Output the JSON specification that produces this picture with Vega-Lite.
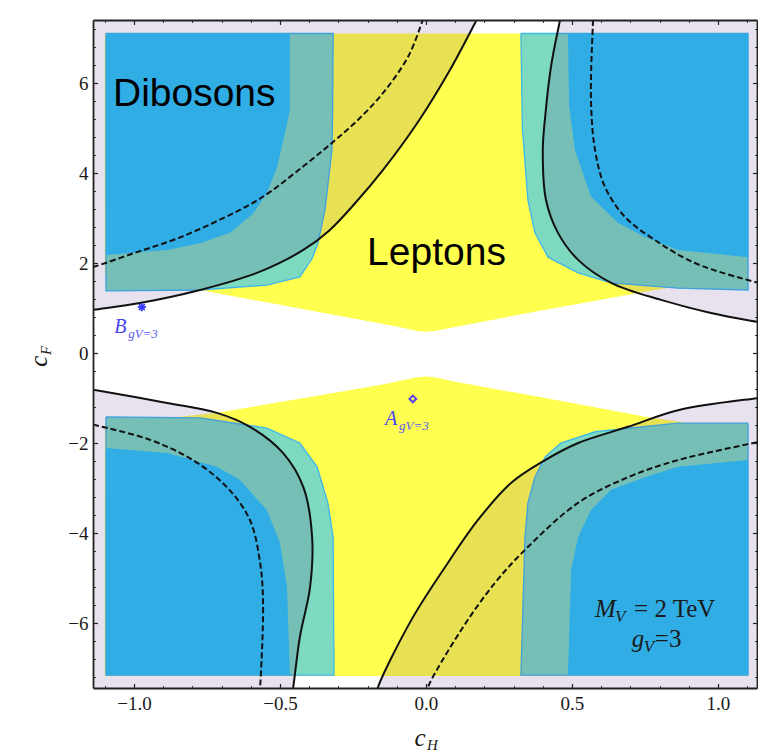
{
  "$schema": "https://vega.github.io/schema/vega-lite/v6.json",
  "width": 664,
  "height": 668,
  "autosize": "none",
  "padding": {"left": 93, "top": 20, "right": 1, "bottom": 64},
  "background": "white",
  "config": {"view": {"stroke": null}},
  "datasets": {
    "yellow": [
      {"id": "U", "i": 0, "x": -1.1, "y": 7.1}, {"id": "U", "i": 1, "x": 1.1, "y": 7.1}, {"id": "U", "i": 2, "x": 1.1, "y": 1.75}, {"id": "U", "i": 3, "x": 0.75, "y": 1.36}, {"id": "U", "i": 4, "x": 0.4, "y": 0.95}, {"id": "U", "i": 5, "x": 0.1, "y": 0.58}, {"id": "U", "i": 6, "x": 0.03, "y": 0.49}, {"id": "U", "i": 7, "x": 0, "y": 0.47}, {"id": "U", "i": 8, "x": -0.03, "y": 0.49}, {"id": "U", "i": 9, "x": -0.1, "y": 0.59}, {"id": "U", "i": 10, "x": -0.4, "y": 0.95}, {"id": "U", "i": 11, "x": -0.774, "y": 1.4}, {"id": "U", "i": 12, "x": -1.1, "y": 1.75},
      {"id": "L", "i": 0, "x": -1.1, "y": -7.18}, {"id": "L", "i": 1, "x": 1.1, "y": -7.18}, {"id": "L", "i": 2, "x": 1.1, "y": -1.75}, {"id": "L", "i": 3, "x": 0.757, "y": -1.42}, {"id": "L", "i": 4, "x": 0.4, "y": -0.99}, {"id": "L", "i": 5, "x": 0.1, "y": -0.64}, {"id": "L", "i": 6, "x": 0.03, "y": -0.54}, {"id": "L", "i": 7, "x": 0, "y": -0.52}, {"id": "L", "i": 8, "x": -0.03, "y": -0.54}, {"id": "L", "i": 9, "x": -0.158, "y": -0.71}, {"id": "L", "i": 10, "x": -0.716, "y": -1.33}, {"id": "L", "i": 11, "x": -0.85, "y": -1.42}, {"id": "L", "i": 12, "x": -1.1, "y": -1.6}
    ],
    "mint": [
      {"id": "UL", "i": 0, "x": -1.096, "y": 7.1}, {"id": "UL", "i": 1, "x": -0.318, "y": 7.1}, {"id": "UL", "i": 2, "x": -0.32, "y": 5.2}, {"id": "UL", "i": 3, "x": -0.322, "y": 4.51}, {"id": "UL", "i": 4, "x": -0.346, "y": 3.18}, {"id": "UL", "i": 5, "x": -0.37, "y": 2.44}, {"id": "UL", "i": 6, "x": -0.39, "y": 2.1}, {"id": "UL", "i": 7, "x": -0.432, "y": 1.69}, {"id": "UL", "i": 8, "x": -0.545, "y": 1.51}, {"id": "UL", "i": 9, "x": -0.774, "y": 1.4}, {"id": "UL", "i": 10, "x": -1.096, "y": 1.38}, {"id": "UL", "i": 11, "x": -1.096, "y": 7.1},
      {"id": "UR", "i": 0, "x": 0.325, "y": 7.1}, {"id": "UR", "i": 1, "x": 1.103, "y": 7.1}, {"id": "UR", "i": 2, "x": 1.103, "y": 1.4}, {"id": "UR", "i": 3, "x": 0.863, "y": 1.44}, {"id": "UR", "i": 4, "x": 0.634, "y": 1.56}, {"id": "UR", "i": 5, "x": 0.521, "y": 1.78}, {"id": "UR", "i": 6, "x": 0.418, "y": 2.13}, {"id": "UR", "i": 7, "x": 0.373, "y": 2.67}, {"id": "UR", "i": 8, "x": 0.349, "y": 3.4}, {"id": "UR", "i": 9, "x": 0.33, "y": 5.0}, {"id": "UR", "i": 10, "x": 0.325, "y": 7.1},
      {"id": "LL", "i": 0, "x": -1.096, "y": -1.42}, {"id": "LL", "i": 1, "x": -0.774, "y": -1.44}, {"id": "LL", "i": 2, "x": -0.545, "y": -1.67}, {"id": "LL", "i": 3, "x": -0.432, "y": -2.0}, {"id": "LL", "i": 4, "x": -0.373, "y": -2.53}, {"id": "LL", "i": 5, "x": -0.336, "y": -3.33}, {"id": "LL", "i": 6, "x": -0.318, "y": -4.09}, {"id": "LL", "i": 7, "x": -0.315, "y": -7.16}, {"id": "LL", "i": 8, "x": -1.096, "y": -7.16}, {"id": "LL", "i": 9, "x": -1.096, "y": -1.42},
      {"id": "LR", "i": 0, "x": 1.103, "y": -1.56}, {"id": "LR", "i": 1, "x": 0.863, "y": -1.56}, {"id": "LR", "i": 2, "x": 0.579, "y": -1.75}, {"id": "LR", "i": 3, "x": 0.462, "y": -2.0}, {"id": "LR", "i": 4, "x": 0.408, "y": -2.31}, {"id": "LR", "i": 5, "x": 0.373, "y": -2.76}, {"id": "LR", "i": 6, "x": 0.349, "y": -3.33}, {"id": "LR", "i": 7, "x": 0.339, "y": -4.09}, {"id": "LR", "i": 8, "x": 0.325, "y": -7.16}, {"id": "LR", "i": 9, "x": 1.103, "y": -7.16}, {"id": "LR", "i": 10, "x": 1.103, "y": -1.56}
    ],
    "blue": [
      {"id": "UL", "i": 0, "x": -1.096, "y": 7.1}, {"id": "UL", "i": 1, "x": -0.466, "y": 7.1}, {"id": "UL", "i": 2, "x": -0.466, "y": 5.4}, {"id": "UL", "i": 3, "x": -0.483, "y": 4.89}, {"id": "UL", "i": 4, "x": -0.51, "y": 4.13}, {"id": "UL", "i": 5, "x": -0.545, "y": 3.55}, {"id": "UL", "i": 6, "x": -0.592, "y": 3.1}, {"id": "UL", "i": 7, "x": -0.671, "y": 2.67}, {"id": "UL", "i": 8, "x": -0.774, "y": 2.44}, {"id": "UL", "i": 9, "x": -0.887, "y": 2.29}, {"id": "UL", "i": 10, "x": -1.096, "y": 2.18},
      {"id": "UR", "i": 0, "x": 0.486, "y": 7.1}, {"id": "UR", "i": 1, "x": 1.103, "y": 7.1}, {"id": "UR", "i": 2, "x": 1.103, "y": 2.13}, {"id": "UR", "i": 3, "x": 0.863, "y": 2.29}, {"id": "UR", "i": 4, "x": 0.75, "y": 2.58}, {"id": "UR", "i": 5, "x": 0.658, "y": 2.89}, {"id": "UR", "i": 6, "x": 0.565, "y": 3.47}, {"id": "UR", "i": 7, "x": 0.51, "y": 4.51}, {"id": "UR", "i": 8, "x": 0.49, "y": 5.5},
      {"id": "LL", "i": 0, "x": -1.096, "y": -2.11}, {"id": "LL", "i": 1, "x": -0.887, "y": -2.22}, {"id": "LL", "i": 2, "x": -0.716, "y": -2.53}, {"id": "LL", "i": 3, "x": -0.637, "y": -2.82}, {"id": "LL", "i": 4, "x": -0.545, "y": -3.49}, {"id": "LL", "i": 5, "x": -0.5, "y": -4.22}, {"id": "LL", "i": 6, "x": -0.476, "y": -5.2}, {"id": "LL", "i": 7, "x": -0.466, "y": -7.16}, {"id": "LL", "i": 8, "x": -1.096, "y": -7.16},
      {"id": "LR", "i": 0, "x": 1.103, "y": -2.38}, {"id": "LR", "i": 1, "x": 0.863, "y": -2.53}, {"id": "LR", "i": 2, "x": 0.75, "y": -2.76}, {"id": "LR", "i": 3, "x": 0.634, "y": -3.04}, {"id": "LR", "i": 4, "x": 0.565, "y": -3.49}, {"id": "LR", "i": 5, "x": 0.521, "y": -4.09}, {"id": "LR", "i": 6, "x": 0.497, "y": -4.82}, {"id": "LR", "i": 7, "x": 0.486, "y": -7.16}, {"id": "LR", "i": 8, "x": 1.103, "y": -7.16}
    ],
    "lav": [
      {"id": "UL", "i": 0, "x": -1.2, "y": 7.6}, {"id": "UL", "i": 1, "x": 0.19, "y": 7.6}, {"id": "UL", "i": 2, "x": 0.175, "y": 7.42}, {"id": "UL", "i": 3, "x": 0.082, "y": 6.29}, {"id": "UL", "i": 4, "x": -0.031, "y": 5.1}, {"id": "UL", "i": 5, "x": -0.147, "y": 4.07}, {"id": "UL", "i": 6, "x": -0.24, "y": 3.35}, {"id": "UL", "i": 7, "x": -0.33, "y": 2.73}, {"id": "UL", "i": 8, "x": -0.42, "y": 2.29}, {"id": "UL", "i": 9, "x": -0.579, "y": 1.78}, {"id": "UL", "i": 10, "x": -0.774, "y": 1.4}, {"id": "UL", "i": 11, "x": -0.98, "y": 1.11}, {"id": "UL", "i": 12, "x": -1.14, "y": 0.96}, {"id": "UL", "i": 13, "x": -1.2, "y": 0.9},
      {"id": "UR", "i": 0, "x": 1.2, "y": 7.6}, {"id": "UR", "i": 1, "x": 0.465, "y": 7.6}, {"id": "UR", "i": 2, "x": 0.459, "y": 7.4}, {"id": "UR", "i": 3, "x": 0.428, "y": 6.36}, {"id": "UR", "i": 4, "x": 0.408, "y": 5.24}, {"id": "UR", "i": 5, "x": 0.4, "y": 4.51}, {"id": "UR", "i": 6, "x": 0.411, "y": 3.4}, {"id": "UR", "i": 7, "x": 0.452, "y": 2.67}, {"id": "UR", "i": 8, "x": 0.521, "y": 2.07}, {"id": "UR", "i": 9, "x": 0.634, "y": 1.56}, {"id": "UR", "i": 10, "x": 0.805, "y": 1.18}, {"id": "UR", "i": 11, "x": 0.976, "y": 0.89}, {"id": "UR", "i": 12, "x": 1.137, "y": 0.69}, {"id": "UR", "i": 13, "x": 1.2, "y": 0.62},
      {"id": "LL", "i": 0, "x": -1.2, "y": -7.6}, {"id": "LL", "i": 1, "x": -1.2, "y": -0.75}, {"id": "LL", "i": 2, "x": -1.134, "y": -0.82}, {"id": "LL", "i": 3, "x": -0.887, "y": -1.11}, {"id": "LL", "i": 4, "x": -0.716, "y": -1.33}, {"id": "LL", "i": 5, "x": -0.603, "y": -1.64}, {"id": "LL", "i": 6, "x": -0.49, "y": -2.22}, {"id": "LL", "i": 7, "x": -0.42, "y": -2.98}, {"id": "LL", "i": 8, "x": -0.39, "y": -4.09}, {"id": "LL", "i": 9, "x": -0.397, "y": -5.2}, {"id": "LL", "i": 10, "x": -0.432, "y": -6.31}, {"id": "LL", "i": 11, "x": -0.455, "y": -7.44}, {"id": "LL", "i": 12, "x": -0.46, "y": -7.6},
      {"id": "LR", "i": 0, "x": 1.2, "y": -7.6}, {"id": "LR", "i": 1, "x": -0.17, "y": -7.6}, {"id": "LR", "i": 2, "x": -0.164, "y": -7.42}, {"id": "LR", "i": 3, "x": -0.05, "y": -5.93}, {"id": "LR", "i": 4, "x": 0.065, "y": -4.76}, {"id": "LR", "i": 5, "x": 0.178, "y": -3.71}, {"id": "LR", "i": 6, "x": 0.291, "y": -2.89}, {"id": "LR", "i": 7, "x": 0.408, "y": -2.38}, {"id": "LR", "i": 8, "x": 0.521, "y": -2.0}, {"id": "LR", "i": 9, "x": 0.692, "y": -1.64}, {"id": "LR", "i": 10, "x": 0.863, "y": -1.27}, {"id": "LR", "i": 11, "x": 1.137, "y": -1.0}, {"id": "LR", "i": 12, "x": 1.2, "y": -0.95}
    ],
    "solid": [
      {"id": "UL", "i": 0, "x": -1.2, "y": 0.9}, {"id": "UL", "i": 1, "x": -1.14, "y": 0.96}, {"id": "UL", "i": 2, "x": -0.98, "y": 1.11}, {"id": "UL", "i": 3, "x": -0.774, "y": 1.4}, {"id": "UL", "i": 4, "x": -0.579, "y": 1.78}, {"id": "UL", "i": 5, "x": -0.42, "y": 2.29}, {"id": "UL", "i": 6, "x": -0.33, "y": 2.73}, {"id": "UL", "i": 7, "x": -0.24, "y": 3.35}, {"id": "UL", "i": 8, "x": -0.147, "y": 4.07}, {"id": "UL", "i": 9, "x": -0.031, "y": 5.1}, {"id": "UL", "i": 10, "x": 0.082, "y": 6.29}, {"id": "UL", "i": 11, "x": 0.175, "y": 7.42}, {"id": "UL", "i": 12, "x": 0.19, "y": 7.6},
      {"id": "UR", "i": 0, "x": 0.465, "y": 7.6}, {"id": "UR", "i": 1, "x": 0.459, "y": 7.4}, {"id": "UR", "i": 2, "x": 0.428, "y": 6.36}, {"id": "UR", "i": 3, "x": 0.408, "y": 5.24}, {"id": "UR", "i": 4, "x": 0.4, "y": 4.51}, {"id": "UR", "i": 5, "x": 0.411, "y": 3.4}, {"id": "UR", "i": 6, "x": 0.452, "y": 2.67}, {"id": "UR", "i": 7, "x": 0.521, "y": 2.07}, {"id": "UR", "i": 8, "x": 0.634, "y": 1.56}, {"id": "UR", "i": 9, "x": 0.805, "y": 1.18}, {"id": "UR", "i": 10, "x": 0.976, "y": 0.89}, {"id": "UR", "i": 11, "x": 1.137, "y": 0.69}, {"id": "UR", "i": 12, "x": 1.2, "y": 0.62},
      {"id": "LL", "i": 0, "x": -1.2, "y": -0.75}, {"id": "LL", "i": 1, "x": -1.134, "y": -0.82}, {"id": "LL", "i": 2, "x": -0.887, "y": -1.11}, {"id": "LL", "i": 3, "x": -0.716, "y": -1.33}, {"id": "LL", "i": 4, "x": -0.603, "y": -1.64}, {"id": "LL", "i": 5, "x": -0.49, "y": -2.22}, {"id": "LL", "i": 6, "x": -0.42, "y": -2.98}, {"id": "LL", "i": 7, "x": -0.39, "y": -4.09}, {"id": "LL", "i": 8, "x": -0.397, "y": -5.2}, {"id": "LL", "i": 9, "x": -0.432, "y": -6.31}, {"id": "LL", "i": 10, "x": -0.455, "y": -7.44}, {"id": "LL", "i": 11, "x": -0.46, "y": -7.6},
      {"id": "LR", "i": 0, "x": -0.17, "y": -7.6}, {"id": "LR", "i": 1, "x": -0.164, "y": -7.42}, {"id": "LR", "i": 2, "x": -0.05, "y": -5.93}, {"id": "LR", "i": 3, "x": 0.065, "y": -4.76}, {"id": "LR", "i": 4, "x": 0.178, "y": -3.71}, {"id": "LR", "i": 5, "x": 0.291, "y": -2.89}, {"id": "LR", "i": 6, "x": 0.408, "y": -2.38}, {"id": "LR", "i": 7, "x": 0.521, "y": -2.0}, {"id": "LR", "i": 8, "x": 0.692, "y": -1.64}, {"id": "LR", "i": 9, "x": 0.863, "y": -1.27}, {"id": "LR", "i": 10, "x": 1.137, "y": -1.0}, {"id": "LR", "i": 11, "x": 1.2, "y": -0.95}
    ],
    "dashed": [
      {"id": "UL", "i": 0, "x": -1.2, "y": 1.8}, {"id": "UL", "i": 1, "x": -1.14, "y": 1.91}, {"id": "UL", "i": 2, "x": -1.0, "y": 2.22}, {"id": "UL", "i": 3, "x": -0.85, "y": 2.55}, {"id": "UL", "i": 4, "x": -0.7, "y": 2.98}, {"id": "UL", "i": 5, "x": -0.603, "y": 3.3}, {"id": "UL", "i": 6, "x": -0.534, "y": 3.58}, {"id": "UL", "i": 7, "x": -0.42, "y": 4.15}, {"id": "UL", "i": 8, "x": -0.318, "y": 4.69}, {"id": "UL", "i": 9, "x": -0.23, "y": 5.2}, {"id": "UL", "i": 10, "x": -0.147, "y": 5.78}, {"id": "UL", "i": 11, "x": -0.06, "y": 6.6}, {"id": "UL", "i": 12, "x": -0.01, "y": 7.42}, {"id": "UL", "i": 13, "x": 0.0, "y": 7.6},
      {"id": "UR", "i": 0, "x": 0.573, "y": 7.6}, {"id": "UR", "i": 1, "x": 0.572, "y": 7.4}, {"id": "UR", "i": 2, "x": 0.565, "y": 5.62}, {"id": "UR", "i": 3, "x": 0.579, "y": 4.51}, {"id": "UR", "i": 4, "x": 0.613, "y": 3.69}, {"id": "UR", "i": 5, "x": 0.682, "y": 3.02}, {"id": "UR", "i": 6, "x": 0.784, "y": 2.51}, {"id": "UR", "i": 7, "x": 0.921, "y": 2.0}, {"id": "UR", "i": 8, "x": 1.137, "y": 1.56}, {"id": "UR", "i": 9, "x": 1.2, "y": 1.46},
      {"id": "LL", "i": 0, "x": -1.2, "y": -1.5}, {"id": "LL", "i": 1, "x": -1.134, "y": -1.6}, {"id": "LL", "i": 2, "x": -0.945, "y": -1.93}, {"id": "LL", "i": 3, "x": -0.798, "y": -2.38}, {"id": "LL", "i": 4, "x": -0.682, "y": -2.98}, {"id": "LL", "i": 5, "x": -0.603, "y": -3.71}, {"id": "LL", "i": 6, "x": -0.568, "y": -4.67}, {"id": "LL", "i": 7, "x": -0.558, "y": -5.56}, {"id": "LL", "i": 8, "x": -0.568, "y": -7.44}, {"id": "LL", "i": 9, "x": -0.57, "y": -7.6},
      {"id": "LR", "i": 0, "x": 0.0, "y": -7.6}, {"id": "LR", "i": 1, "x": 0.007, "y": -7.42}, {"id": "LR", "i": 2, "x": 0.12, "y": -6.16}, {"id": "LR", "i": 3, "x": 0.236, "y": -5.11}, {"id": "LR", "i": 4, "x": 0.349, "y": -4.31}, {"id": "LR", "i": 5, "x": 0.521, "y": -3.33}, {"id": "LR", "i": 6, "x": 0.692, "y": -2.76}, {"id": "LR", "i": 7, "x": 0.863, "y": -2.38}, {"id": "LR", "i": 8, "x": 1.137, "y": -1.98}, {"id": "LR", "i": 9, "x": 1.2, "y": -1.9}
    ]
  },
  "layer": [
    {
      "data": {"name": "yellow"},
      "mark": {"type": "line", "fill": "#FFFF50", "strokeWidth": 0, "clip": true},
      "encoding": {
        "x": {"field": "x", "type": "quantitative", "title": null, "scale": {"domain": [-1.1404, 1.1336], "nice": false, "zero": false},
              "axis": {"orient": "bottom", "values": [-1, -0.5, 0, 0.5, 1], "format": ".1f", "ticks": false, "tickSize": 0, "labelPadding": 6, "labelFont": "Liberation Serif", "labelFontSize": 19, "labelColor": "#1a1a1a", "domain": true, "domainColor": "#222", "domainWidth": 1.8, "grid": false, "labelFlush": false, "labelOverlap": false, "zindex": 1}},
        "y": {"field": "y", "type": "quantitative", "title": null, "scale": {"domain": [-7.444, 7.4], "nice": false, "zero": false},
              "axis": {"orient": "left", "values": [-6, -4, -2, 0, 2, 4, 6], "format": "d", "ticks": false, "tickSize": 0, "labelPadding": 5, "labelFont": "Liberation Serif", "labelFontSize": 19, "labelColor": "#1a1a1a", "domain": true, "domainColor": "#222", "domainWidth": 1.8, "grid": false, "labelFlush": false, "labelOverlap": false, "zindex": 1}},
        "detail": {"field": "id"},
        "order": {"field": "i", "type": "quantitative"}
      }
    },
    {
      "data": {"name": "mint"},
      "mark": {"type": "line", "fill": "#7DD9C0", "stroke": "#3FB7EC", "strokeWidth": 1.3, "clip": true},
      "encoding": {
        "x": {"field": "x", "type": "quantitative", "title": null, "scale": {"domain": [-1.1404, 1.1336], "nice": false, "zero": false},
              "axis": {"orient": "bottom", "values": [-1, -0.5, 0, 0.5, 1], "labels": false, "offset": -4.5, "tickSize": 4.5, "tickColor": "#222", "tickWidth": 1.2, "domain": false, "grid": false, "zindex": 1}},
        "y": {"field": "y", "type": "quantitative", "title": null, "scale": {"domain": [-7.444, 7.4], "nice": false, "zero": false},
              "axis": {"orient": "left", "values": [-6, -4, -2, 0, 2, 4, 6], "labels": false, "offset": -4.5, "tickSize": 4.5, "tickColor": "#222", "tickWidth": 1.2, "domain": false, "grid": false, "zindex": 1}},
        "detail": {"field": "id"},
        "order": {"field": "i", "type": "quantitative"}
      }
    },
    {
      "data": {"name": "blue"},
      "mark": {"type": "line", "fill": "#2FC4F6", "strokeWidth": 0, "clip": true},
      "encoding": {
        "x": {"field": "x", "type": "quantitative", "title": null, "scale": {"domain": [-1.1404, 1.1336], "nice": false, "zero": false},
              "axis": {"orient": "top", "values": [-1, -0.5, 0, 0.5, 1], "labels": false, "offset": -4.5, "tickSize": 4.5, "tickColor": "#222", "tickWidth": 1.2, "domain": false, "grid": false, "zindex": 1}},
        "y": {"field": "y", "type": "quantitative", "title": null, "scale": {"domain": [-7.444, 7.4], "nice": false, "zero": false},
              "axis": {"orient": "right", "values": [-6, -4, -2, 0, 2, 4, 6], "labels": false, "offset": -4.5, "tickSize": 4.5, "tickColor": "#222", "tickWidth": 1.2, "domain": false, "grid": false, "zindex": 1}},
        "detail": {"field": "id"},
        "order": {"field": "i", "type": "quantitative"}
      }
    },
    {
      "data": {"name": "lav"},
      "mark": {"type": "line", "fill": "#3F0571", "fillOpacity": 0.12, "strokeWidth": 0, "interpolate": "catmull-rom", "clip": true},
      "encoding": {
        "x": {"field": "x", "type": "quantitative", "title": null, "scale": {"domain": [-1.1404, 1.1336], "nice": false, "zero": false},
              "axis": {"orient": "bottom", "values": [-1.1, -0.9, -0.8, -0.7, -0.6, -0.4, -0.3, -0.2, -0.1, 0.1, 0.2, 0.3, 0.4, 0.6, 0.7, 0.8, 0.9, 1.1], "labels": false, "offset": -2.5, "tickSize": 2.5, "tickColor": "#333", "tickWidth": 1, "domain": false, "grid": false, "zindex": 1}},
        "y": {"field": "y", "type": "quantitative", "title": null, "scale": {"domain": [-7.444, 7.4], "nice": false, "zero": false},
              "axis": {"orient": "left", "values": [-7.2, -6.8, -6.4, -5.6, -5.2, -4.8, -4.4, -3.6, -3.2, -2.8, -2.4, -1.6, -1.2, -0.8, -0.4, 0.4, 0.8, 1.2, 1.6, 2.4, 2.8, 3.2, 3.6, 4.4, 4.8, 5.2, 5.6, 6.4, 6.8, 7.2], "labels": false, "offset": -2.5, "tickSize": 2.5, "tickColor": "#333", "tickWidth": 1, "domain": false, "grid": false, "zindex": 1}},
        "detail": {"field": "id"},
        "order": {"field": "i", "type": "quantitative"}
      }
    },
    {
      "data": {"name": "solid"},
      "mark": {"type": "line", "stroke": "#111", "strokeWidth": 2, "interpolate": "catmull-rom", "clip": true},
      "encoding": {
        "x": {"field": "x", "type": "quantitative", "title": null, "scale": {"domain": [-1.1404, 1.1336], "nice": false, "zero": false},
              "axis": {"orient": "top", "values": [-1.1, -0.9, -0.8, -0.7, -0.6, -0.4, -0.3, -0.2, -0.1, 0.1, 0.2, 0.3, 0.4, 0.6, 0.7, 0.8, 0.9, 1.1], "labels": false, "offset": -2.5, "tickSize": 2.5, "tickColor": "#333", "tickWidth": 1, "domain": false, "grid": false, "zindex": 1}},
        "y": {"field": "y", "type": "quantitative", "title": null, "scale": {"domain": [-7.444, 7.4], "nice": false, "zero": false},
              "axis": {"orient": "right", "values": [-7.2, -6.8, -6.4, -5.6, -5.2, -4.8, -4.4, -3.6, -3.2, -2.8, -2.4, -1.6, -1.2, -0.8, -0.4, 0.4, 0.8, 1.2, 1.6, 2.4, 2.8, 3.2, 3.6, 4.4, 4.8, 5.2, 5.6, 6.4, 6.8, 7.2], "labels": false, "offset": -2.5, "tickSize": 2.5, "tickColor": "#333", "tickWidth": 1, "domain": false, "grid": false, "zindex": 1}},
        "detail": {"field": "id"},
        "order": {"field": "i", "type": "quantitative"}
      }
    },
    {
      "data": {"name": "dashed"},
      "mark": {"type": "line", "stroke": "#111", "strokeWidth": 2, "strokeDash": [6, 3], "interpolate": "catmull-rom", "clip": true},
      "encoding": {
        "x": {"field": "x", "type": "quantitative", "title": null, "scale": {"domain": [-1.1404, 1.1336], "nice": false, "zero": false},
              "axis": {"orient": "top", "labels": false, "ticks": false, "domain": true, "domainColor": "#222", "domainWidth": 1.8, "grid": false, "zindex": 1}},
        "y": {"field": "y", "type": "quantitative", "title": null, "scale": {"domain": [-7.444, 7.4], "nice": false, "zero": false},
              "axis": {"orient": "right", "labels": false, "ticks": false, "domain": true, "domainColor": "#222", "domainWidth": 1.8, "grid": false, "zindex": 1}},
        "detail": {"field": "id"},
        "order": {"field": "i", "type": "quantitative"}
      }
    },
    {
      "data": {"values": [{"x": -0.973, "y": 1.02}]},
      "mark": {"type": "point", "shape": "M-1,0L1,0M0,-1L0,1M-0.7,-0.7L0.7,0.7M-0.7,0.7L0.7,-0.7", "size": 70, "filled": false, "stroke": "#3c3cff", "strokeWidth": 1.8, "opacity": 1},
      "encoding": {
        "x": {"field": "x", "type": "quantitative", "scale": {"domain": [-1.1404, 1.1336], "nice": false, "zero": false}, "axis": null},
        "y": {"field": "y", "type": "quantitative", "scale": {"domain": [-7.444, 7.4], "nice": false, "zero": false}, "axis": null}
      }
    },
    {
      "data": {"values": [{"x": -0.045, "y": -1.02}]},
      "mark": {"type": "point", "shape": "diamond", "size": 45, "filled": false, "stroke": "#5a40f0", "strokeWidth": 2, "opacity": 1},
      "encoding": {
        "x": {"field": "x", "type": "quantitative", "scale": {"domain": [-1.1404, 1.1336], "nice": false, "zero": false}, "axis": null},
        "y": {"field": "y", "type": "quantitative", "scale": {"domain": [-7.444, 7.4], "nice": false, "zero": false}, "axis": null}
      }
    },
    {
      "data": {"values": [{"t": "Dibosons", "x": -1.072, "y": 5.49}]},
      "mark": {"type": "text", "font": "Liberation Sans", "fontSize": 39, "align": "left", "baseline": "alphabetic", "color": "#000"},
      "encoding": {
        "x": {"field": "x", "type": "quantitative", "scale": {"domain": [-1.1404, 1.1336], "nice": false, "zero": false}, "axis": null},
        "y": {"field": "y", "type": "quantitative", "scale": {"domain": [-7.444, 7.4], "nice": false, "zero": false}, "axis": null},
        "text": {"field": "t"}
      }
    },
    {
      "data": {"values": [{"t": "Leptons", "x": 0.036, "y": 1.96}]},
      "mark": {"type": "text", "font": "Liberation Sans", "fontSize": 39, "align": "center", "baseline": "alphabetic", "color": "#000"},
      "encoding": {
        "x": {"field": "x", "type": "quantitative", "scale": {"domain": [-1.1404, 1.1336], "nice": false, "zero": false}, "axis": null},
        "y": {"field": "y", "type": "quantitative", "scale": {"domain": [-7.444, 7.4], "nice": false, "zero": false}, "axis": null},
        "text": {"field": "t"}
      }
    },
    {
      "data": {"values": [{"t": "B", "x": -1.068, "y": 0.44}, {"t": "A", "x": -0.14, "y": -1.6}]},
      "mark": {"type": "text", "font": "Liberation Serif", "fontStyle": "italic", "fontSize": 20, "align": "left", "baseline": "alphabetic", "color": "#4646f2"},
      "encoding": {
        "x": {"field": "x", "type": "quantitative", "scale": {"domain": [-1.1404, 1.1336], "nice": false, "zero": false}, "axis": null},
        "y": {"field": "y", "type": "quantitative", "scale": {"domain": [-7.444, 7.4], "nice": false, "zero": false}, "axis": null},
        "text": {"field": "t"}
      }
    },
    {
      "data": {"values": [{"t": "gV=3", "x": -1.068, "y": 0.44}, {"t": "gV=3", "x": -0.14, "y": -1.6}]},
      "mark": {"type": "text", "font": "Liberation Serif", "fontStyle": "italic", "fontSize": 13, "align": "left", "baseline": "alphabetic", "dx": 14, "dy": 5, "color": "#5a5af2"},
      "encoding": {
        "x": {"field": "x", "type": "quantitative", "scale": {"domain": [-1.1404, 1.1336], "nice": false, "zero": false}, "axis": null},
        "y": {"field": "y", "type": "quantitative", "scale": {"domain": [-7.444, 7.4], "nice": false, "zero": false}, "axis": null},
        "text": {"field": "t"}
      }
    },
    {
      "data": {"values": [{"t": "M", "x": 0.579, "y": -5.87}, {"t": "g", "x": 0.705, "y": -6.53}]},
      "mark": {"type": "text", "font": "Liberation Serif", "fontStyle": "italic", "fontSize": 25, "align": "left", "baseline": "alphabetic", "color": "#1a1a1a"},
      "encoding": {
        "x": {"field": "x", "type": "quantitative", "scale": {"domain": [-1.1404, 1.1336], "nice": false, "zero": false}, "axis": null},
        "y": {"field": "y", "type": "quantitative", "scale": {"domain": [-7.444, 7.4], "nice": false, "zero": false}, "axis": null},
        "text": {"field": "t"}
      }
    },
    {
      "data": {"values": [{"t": "V", "x": 0.579, "y": -5.87}]},
      "mark": {"type": "text", "font": "Liberation Serif", "fontStyle": "italic", "fontSize": 17, "align": "left", "baseline": "alphabetic", "dx": 20, "dy": 5, "color": "#1a1a1a"},
      "encoding": {
        "x": {"field": "x", "type": "quantitative", "scale": {"domain": [-1.1404, 1.1336], "nice": false, "zero": false}, "axis": null},
        "y": {"field": "y", "type": "quantitative", "scale": {"domain": [-7.444, 7.4], "nice": false, "zero": false}, "axis": null},
        "text": {"field": "t"}
      }
    },
    {
      "data": {"values": [{"t": "= 2 TeV", "x": 0.579, "y": -5.87}]},
      "mark": {"type": "text", "font": "Liberation Serif", "fontSize": 25, "align": "left", "baseline": "alphabetic", "dx": 39, "color": "#1a1a1a"},
      "encoding": {
        "x": {"field": "x", "type": "quantitative", "scale": {"domain": [-1.1404, 1.1336], "nice": false, "zero": false}, "axis": null},
        "y": {"field": "y", "type": "quantitative", "scale": {"domain": [-7.444, 7.4], "nice": false, "zero": false}, "axis": null},
        "text": {"field": "t"}
      }
    },
    {
      "data": {"values": [{"t": "V", "x": 0.705, "y": -6.53}]},
      "mark": {"type": "text", "font": "Liberation Serif", "fontStyle": "italic", "fontSize": 17, "align": "left", "baseline": "alphabetic", "dx": 12, "dy": 5, "color": "#1a1a1a"},
      "encoding": {
        "x": {"field": "x", "type": "quantitative", "scale": {"domain": [-1.1404, 1.1336], "nice": false, "zero": false}, "axis": null},
        "y": {"field": "y", "type": "quantitative", "scale": {"domain": [-7.444, 7.4], "nice": false, "zero": false}, "axis": null},
        "text": {"field": "t"}
      }
    },
    {
      "data": {"values": [{"t": "=3", "x": 0.705, "y": -6.53}]},
      "mark": {"type": "text", "font": "Liberation Serif", "fontSize": 25, "align": "left", "baseline": "alphabetic", "dx": 23, "color": "#1a1a1a"},
      "encoding": {
        "x": {"field": "x", "type": "quantitative", "scale": {"domain": [-1.1404, 1.1336], "nice": false, "zero": false}, "axis": null},
        "y": {"field": "y", "type": "quantitative", "scale": {"domain": [-7.444, 7.4], "nice": false, "zero": false}, "axis": null},
        "text": {"field": "t"}
      }
    },
    {
      "data": {"values": [{"t": "c", "x": 0, "y": -7.444}]},
      "mark": {"type": "text", "font": "Liberation Serif", "fontStyle": "italic", "fontSize": 25, "align": "center", "baseline": "alphabetic", "dx": -6, "dy": 58, "color": "#1a1a1a"},
      "encoding": {
        "x": {"field": "x", "type": "quantitative", "scale": {"domain": [-1.1404, 1.1336], "nice": false, "zero": false}, "axis": null},
        "y": {"field": "y", "type": "quantitative", "scale": {"domain": [-7.444, 7.4], "nice": false, "zero": false}, "axis": null},
        "text": {"field": "t"}
      }
    },
    {
      "data": {"values": [{"t": "H", "x": 0, "y": -7.444}]},
      "mark": {"type": "text", "font": "Liberation Serif", "fontStyle": "italic", "fontSize": 15, "align": "left", "baseline": "alphabetic", "dx": 1, "dy": 62, "color": "#1a1a1a"},
      "encoding": {
        "x": {"field": "x", "type": "quantitative", "scale": {"domain": [-1.1404, 1.1336], "nice": false, "zero": false}, "axis": null},
        "y": {"field": "y", "type": "quantitative", "scale": {"domain": [-7.444, 7.4], "nice": false, "zero": false}, "axis": null},
        "text": {"field": "t"}
      }
    },
    {
      "data": {"values": [{"t": "c", "x": -1.1404, "y": -0.18}]},
      "mark": {"type": "text", "font": "Liberation Serif", "fontStyle": "italic", "fontSize": 25, "align": "center", "baseline": "alphabetic", "angle": 270, "dy": -46, "color": "#1a1a1a"},
      "encoding": {
        "x": {"field": "x", "type": "quantitative", "scale": {"domain": [-1.1404, 1.1336], "nice": false, "zero": false}, "axis": null},
        "y": {"field": "y", "type": "quantitative", "scale": {"domain": [-7.444, 7.4], "nice": false, "zero": false}, "axis": null},
        "text": {"field": "t"}
      }
    },
    {
      "data": {"values": [{"t": "F", "x": -1.1404, "y": -0.18}]},
      "mark": {"type": "text", "font": "Liberation Serif", "fontStyle": "italic", "fontSize": 15, "align": "left", "baseline": "alphabetic", "angle": 270, "dx": 6, "dy": -42, "color": "#1a1a1a"},
      "encoding": {
        "x": {"field": "x", "type": "quantitative", "scale": {"domain": [-1.1404, 1.1336], "nice": false, "zero": false}, "axis": null},
        "y": {"field": "y", "type": "quantitative", "scale": {"domain": [-7.444, 7.4], "nice": false, "zero": false}, "axis": null},
        "text": {"field": "t"}
      }
    }
  ],
  "resolve": {"axis": {"x": "independent", "y": "independent"}}
}
